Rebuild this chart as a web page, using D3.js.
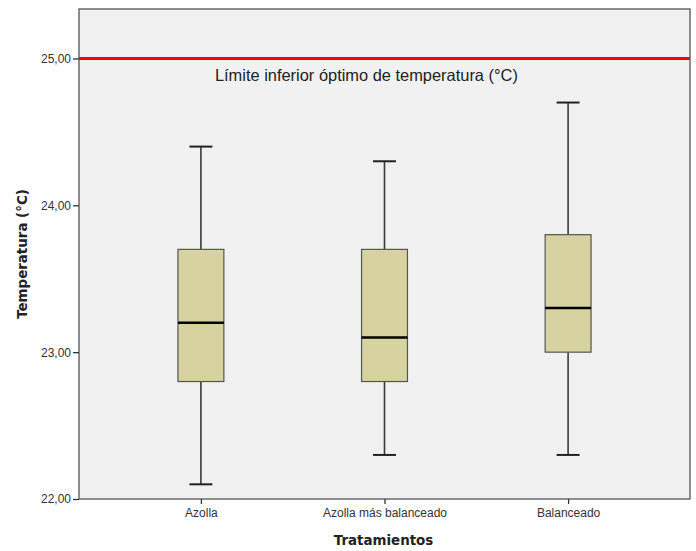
<!DOCTYPE html>
<html>
<head>
<meta charset="utf-8">
<script src="https://cdn.jsdelivr.net/npm/d3@7"></script>
<style>
  html, body { margin: 0; padding: 0; background: #ffffff; }
  svg { display: block; }
</style>
</head>
<body>
<svg id="chart" width="696" height="551"></svg>
<script>
// ---- data ----
const categories = ["Azolla", "Azolla más balanceado", "Balanceado"];
const whiskerLow  = [22.1, 22.3, 22.3];
const q1          = [22.8, 22.8, 23.0];
const median      = [23.2, 23.1, 23.3];
const q3          = [23.7, 23.7, 23.8];
const whiskerHigh = [24.4, 24.3, 24.7];
const yTicks = [22, 23, 24, 25];
const refValue = 25;
const refLabel = "Límite inferior óptimo de temperatura (°C)";
const xTitle = "Tratamientos";
const yTitle = "Temperatura (°C)";

// ---- layout ----
const plotL = 79, plotR = 690, plotT = 9, plotB = 499;

const svg = d3.select("#chart");

const x = d3.scalePoint().domain(categories).range([plotL, plotR]).padding(0.664);
const y = d3.scaleLinear().domain([22, 25.337]).range([plotB, plotT]);
const step = x.step();
const boxW = step * 0.25;
const capW = boxW * 0.5;

// plot background
svg.append("rect")
  .attr("x", plotL).attr("y", plotT)
  .attr("width", plotR - plotL).attr("height", plotB - plotT)
  .attr("fill", "#f1f1f1");

// reference line
svg.append("line")
  .attr("x1", plotL).attr("x2", plotR)
  .attr("y1", y(refValue)).attr("y2", y(refValue))
  .attr("stroke", "#ff0000").attr("stroke-width", 3);

svg.append("text")
  .attr("x", x(categories[0]) + 14)
  .attr("y", y(refValue) + 23)
  .attr("font-family", "Liberation Sans, Arial, sans-serif")
  .attr("font-size", 16.5)
  .attr("textLength", 303)
  .attr("lengthAdjust", "spacingAndGlyphs")
  .attr("fill", "#222")
  .text(refLabel);

// boxes
const data = categories.map((c, i) => ({
  c, lo: whiskerLow[i], q1: q1[i], med: median[i], q3: q3[i], hi: whiskerHigh[i]
}));

const g = svg.append("g").selectAll("g").data(data).join("g");

// whiskers
g.append("line")
  .attr("x1", d => x(d.c)).attr("x2", d => x(d.c))
  .attr("y1", d => y(d.hi)).attr("y2", d => y(d.q3))
  .attr("stroke", "#3a3a3a").attr("stroke-width", 1.6);
g.append("line")
  .attr("x1", d => x(d.c)).attr("x2", d => x(d.c))
  .attr("y1", d => y(d.q1)).attr("y2", d => y(d.lo))
  .attr("stroke", "#3a3a3a").attr("stroke-width", 1.6);
// caps
g.append("line")
  .attr("x1", d => x(d.c) - capW / 2).attr("x2", d => x(d.c) + capW / 2)
  .attr("y1", d => y(d.hi)).attr("y2", d => y(d.hi))
  .attr("stroke", "#222").attr("stroke-width", 2);
g.append("line")
  .attr("x1", d => x(d.c) - capW / 2).attr("x2", d => x(d.c) + capW / 2)
  .attr("y1", d => y(d.lo)).attr("y2", d => y(d.lo))
  .attr("stroke", "#222").attr("stroke-width", 2);
// box
g.append("rect")
  .attr("x", d => x(d.c) - boxW / 2)
  .attr("y", d => y(d.q3))
  .attr("width", boxW)
  .attr("height", d => y(d.q1) - y(d.q3))
  .attr("fill", "#d6d3a0")
  .attr("stroke", "#555")
  .attr("stroke-width", 1.2);
// median
g.append("line")
  .attr("x1", d => x(d.c) - boxW / 2).attr("x2", d => x(d.c) + boxW / 2)
  .attr("y1", d => y(d.med)).attr("y2", d => y(d.med))
  .attr("stroke", "#000").attr("stroke-width", 2.5);

// frame
svg.append("rect")
  .attr("x", plotL).attr("y", plotT)
  .attr("width", plotR - plotL).attr("height", plotB - plotT)
  .attr("fill", "none")
  .attr("stroke", "#555").attr("stroke-width", 1.3);

// axes
const fmt = d => d.toFixed(2).replace(".", ",");
const yAxis = svg.append("g")
  .attr("transform", `translate(${plotL},0)`)
  .call(d3.axisLeft(y).tickValues(yTicks).tickFormat(fmt).tickSize(6).tickPadding(2));
yAxis.select(".domain").remove();
yAxis.selectAll("line").attr("stroke", "#333").attr("stroke-width", 1.3);
yAxis.selectAll("text")
  .attr("font-family", "Liberation Sans, Arial, sans-serif")
  .attr("font-size", 12).attr("fill", "#333");

const xAxis = svg.append("g")
  .attr("transform", `translate(0,${plotB})`)
  .call(d3.axisBottom(x).tickSize(5).tickPadding(4));
xAxis.select(".domain").remove();
xAxis.selectAll("line").attr("stroke", "#333").attr("stroke-width", 1.3);
xAxis.selectAll("text")
  .attr("font-family", "Liberation Sans, Arial, sans-serif")
  .attr("font-size", 12).attr("fill", "#333");

// titles
svg.append("text")
  .attr("x", (plotL + plotR) / 2 - 1)
  .attr("y", 545)
  .attr("text-anchor", "middle")
  .attr("font-family", "DejaVu Sans, sans-serif")
  .attr("font-weight", "bold")
  .attr("font-size", 13.4)
  .attr("fill", "#222")
  .text(xTitle);

svg.append("text")
  .attr("transform", `translate(27,${(plotT + plotB) / 2}) rotate(-90)`)
  .attr("text-anchor", "middle")
  .attr("font-family", "DejaVu Sans, sans-serif")
  .attr("font-weight", "bold")
  .attr("font-size", 13.4)
  .attr("fill", "#222")
  .text(yTitle);
</script>
</body>
</html>
